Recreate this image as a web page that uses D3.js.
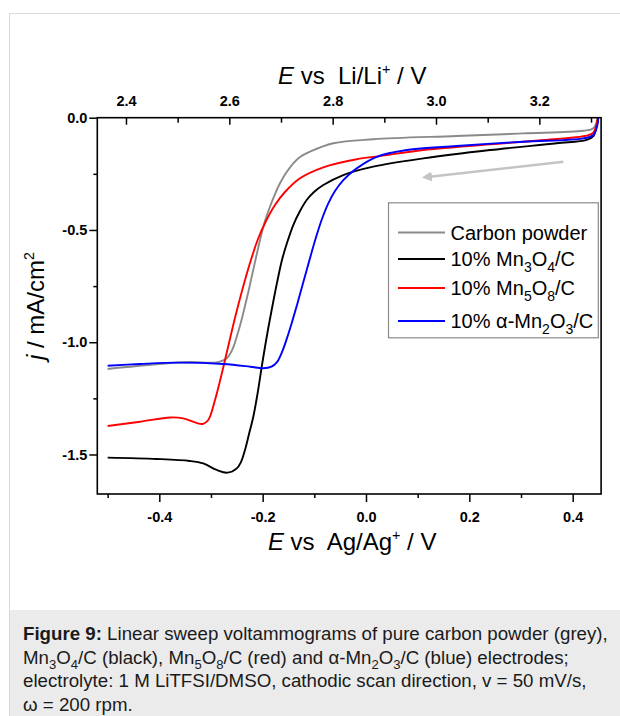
<!DOCTYPE html>
<html><head><meta charset="utf-8">
<script src="https://cdn.jsdelivr.net/npm/d3@7"></script>
<style>
html,body{margin:0;padding:0;background:#fff;}
svg{display:block;font-family:"Liberation Sans",Arial,Helvetica,sans-serif;}
text{white-space:pre;}
</style></head><body>
<svg id="c" width="620" height="716"></svg>
<script>
// ---- data (E vs Ag/Ag+ in V, j in mA/cm2) ----
const carbonPowder = [[-0.500,-1.119],[-0.405,-1.098],[-0.341,-1.088],[-0.289,-1.090],[-0.2696,-1.0717],[-0.2574,-1.0258],[-0.2497,-0.9724],[-0.2419,-0.9100],[-0.2342,-0.8388],[-0.2264,-0.7630],[-0.2187,-0.6829],[-0.2109,-0.6027],[-0.2032,-0.5270],[-0.1955,-0.4601],[-0.1858,-0.3964],[-0.1761,-0.3399],[-0.1665,-0.2922],[-0.1548,-0.2463],[-0.1407,-0.2031],[-0.1277,-0.1751],[-0.1084,-0.1514],[-0.0633,-0.1140],[0.014,-0.096],[0.175,-0.0815],[0.304,-0.070],[0.421,-0.058],[0.440,-0.047],[0.448,-0.010],[0.4495,0.01]];
const mn3o4 = [[-0.500,-1.514],[-0.405,-1.520],[-0.341,-1.529],[-0.315,-1.540],[-0.289,-1.569],[-0.268,-1.581],[-0.250,-1.562],[-0.2419,-1.5336],[-0.2342,-1.4802],[-0.2264,-1.4089],[-0.2181,-1.3318],[-0.2100,-1.2307],[-0.2019,-1.1105],[-0.1955,-1.0214],[-0.1891,-0.9368],[-0.1781,-0.8032],[-0.1703,-0.7140],[-0.1626,-0.6339],[-0.1529,-0.5581],[-0.1407,-0.4780],[-0.1277,-0.4156],[-0.1148,-0.3666],[-0.1006,-0.3310],[-0.0826,-0.2998],[-0.0439,-0.2553],[0.014,-0.218],[0.111,-0.181],[0.240,-0.144],[0.369,-0.114],[0.427,-0.099],[0.440,-0.082],[0.446,-0.040],[0.4495,0.01]];
const mn5o8 = [[-0.500,-1.373],[-0.437,-1.354],[-0.379,-1.335],[-0.354,-1.339],[-0.331,-1.357],[-0.316,-1.364],[-0.3052,-1.3465],[-0.2922,-1.2575],[-0.2793,-1.1416],[-0.2665,-1.0169],[-0.2536,-0.8922],[-0.2400,-0.7719],[-0.2245,-0.6472],[-0.2090,-0.5403],[-0.1935,-0.4601],[-0.1761,-0.3889],[-0.1568,-0.3310],[-0.1277,-0.2699],[-0.0826,-0.2209],[-0.018,-0.185],[0.027,-0.171],[0.111,-0.144],[0.240,-0.119],[0.369,-0.095],[0.427,-0.080],[0.440,-0.067],[0.446,-0.030],[0.4495,0.01]];
const mn2o3 = [[-0.500,-1.105],[-0.437,-1.097],[-0.366,-1.091],[-0.276,-1.097],[-0.224,-1.109],[-0.199,-1.116],[-0.183,-1.109],[-0.1723,-1.0887],[-0.1626,-1.0441],[-0.1529,-0.9818],[-0.1432,-0.9105],[-0.1335,-0.8343],[-0.1239,-0.7541],[-0.1142,-0.6740],[-0.1045,-0.5938],[-0.0948,-0.5181],[-0.0852,-0.4512],[-0.0736,-0.3849],[-0.0600,-0.3269],[-0.0439,-0.2779],[-0.0180,-0.2258],[0.0207,-0.1742],[0.079,-0.144],[0.175,-0.126],[0.304,-0.107],[0.421,-0.092],[0.440,-0.077],[0.448,-0.032],[0.4497,0.01]];

const seriesNames = ["Carbon powder","10% Mn3O4/C","10% Mn5O8/C","10% α-Mn2O3/C"];
const seriesColors = ["#8a8a8a","#000000","#ff0000","#0000ff"];
const seriesData = [carbonPowder, mn3o4, mn5o8, mn2o3];

const xMajorTicks = [-0.4,-0.2,0.0,0.2,0.4];
const xMinorTicks = [-0.5,-0.3,-0.1,0.1,0.3];
const yMajorTicks = [0.0,-0.5,-1.0,-1.5];
const yMinorTicks = [-0.25,-0.75,-1.25];
const topMajorTicks = [2.4,2.6,2.8,3.0,3.2];
const topMinorTicks = [2.5,2.7,2.9,3.1,3.3];
const liOffset = 2.8645; // E(Li/Li+) = E(Ag/Ag+) + offset
const arrowFrom = [0.382,-0.196], arrowTo = [0.112,-0.270];

// ---- layout ----
const svg = d3.select("#c");
const L = 97.3, R = 601.1, T = 117.7, B = 494;
const x = d3.scaleLinear().domain([-0.52, 0.455]).range([L, R]);
const y = d3.scaleLinear().domain([-1.676, 0]).range([B, T]);
const xTop = d3.scaleLinear().domain([-0.52 + liOffset, 0.455 + liOffset]).range([L, R]);
const fmt = d => d3.format(".1f")(d).replace("\u2212","-");

// figure frame & caption background
svg.append("rect").attr("x",9.5).attr("y",13.5).attr("width",640).attr("height",720)
  .attr("fill","none").attr("stroke","#dadada").attr("stroke-width",1);
svg.append("rect").attr("x",10).attr("y",610).attr("width",620).attr("height",110).attr("fill","#ebebeb");

// clip
svg.append("clipPath").attr("id","clip").append("rect")
  .attr("x",L).attr("y",T).attr("width",R-L).attr("height",B-T);

// axes
function styleAxis(g){
  g.select(".domain").remove();
  g.selectAll(".tick line").attr("stroke","#000").attr("stroke-width",1.5);
  g.selectAll(".tick text").attr("fill","#000").attr("font-size","14.5px").attr("font-weight","bold")
   .attr("font-family","Liberation Sans, Arial, sans-serif");
}
svg.append("g").attr("transform",`translate(0,${B})`)
  .call(d3.axisBottom(x).tickValues(xMinorTicks).tickSizeInner(4).tickSizeOuter(0).tickFormat(""))
  .call(styleAxis);
svg.append("g").attr("transform",`translate(0,${B})`)
  .call(d3.axisBottom(x).tickValues(xMajorTicks).tickSizeInner(8).tickSizeOuter(0).tickPadding(9.5).tickFormat(fmt))
  .call(styleAxis);
svg.append("g").attr("transform",`translate(${L},0)`)
  .call(d3.axisLeft(y).tickValues(yMinorTicks).tickSizeInner(4).tickSizeOuter(0).tickFormat(""))
  .call(styleAxis);
svg.append("g").attr("transform",`translate(${L},0)`)
  .call(d3.axisLeft(y).tickValues(yMajorTicks).tickSizeInner(8).tickSizeOuter(0).tickPadding(2).tickFormat(fmt))
  .call(styleAxis);
svg.append("g").attr("transform",`translate(0,${T})`)
  .call(d3.axisTop(xTop).tickValues(topMinorTicks).tickSizeInner(-5).tickSizeOuter(0).tickFormat(""))
  .call(styleAxis);
svg.append("g").attr("transform",`translate(0,${T})`)
  .call(d3.axisTop(xTop).tickValues(topMajorTicks).tickSizeInner(-7).tickSizeOuter(0).tickPadding(11.5).tickFormat(fmt))
  .call(styleAxis);

// curves
const line = d3.line().x(d => x(d[0])).y(d => y(d[1])).curve(d3.curveCatmullRom.alpha(0.5));
const gCurves = svg.append("g").attr("clip-path","url(#clip)");
seriesData.forEach((s,i) => {
  gCurves.append("path").datum(s).attr("d",line).attr("fill","none")
    .attr("stroke",seriesColors[i]).attr("stroke-width",1.9).attr("stroke-linejoin","round");
});

// arrow
svg.append("defs").append("marker").attr("id","ah").attr("viewBox","0 0 10 10")
  .attr("refX",2).attr("refY",5).attr("markerWidth",4.2).attr("markerHeight",4.2).attr("orient","auto-start-reverse")
  .append("path").attr("d","M0,0 L10,5 L0,10 Z").attr("fill","#c4c4c4");
svg.append("line").attr("x1",x(arrowFrom[0])).attr("y1",y(arrowFrom[1]))
  .attr("x2",x(arrowTo[0])+6).attr("y2",y(arrowTo[1])-1.6)
  .attr("stroke","#c4c4c4").attr("stroke-width",2.4).attr("marker-end","url(#ah)");

// frame
svg.append("rect").attr("x",L).attr("y",T).attr("width",R-L).attr("height",B-T)
  .attr("fill","none").attr("stroke","#000").attr("stroke-width",1.6);

// rich text helper: parts = [text, kind] ; kind in i,b,sub,sup
function rich(t, parts, base){
  let cur = 0;
  parts.forEach(p => {
    const [s, k] = p;
    let target = 0, size = null;
    if (k === "sub") { target = base*0.28; size = base*0.7; }
    if (k === "sup") { target = -base*0.42; size = base*0.6; }
    const ts = t.append("tspan").text(s);
    if (target - cur !== 0) ts.attr("dy", target - cur);
    cur = target;
    if (size) ts.attr("font-size", size + "px");
    if (k === "i") ts.attr("font-style","italic");
    if (k === "b") ts.attr("font-weight","bold");
  });
}

// axis titles
const tf = 24;
rich(svg.append("text").attr("x",(L+R)/2 + 3).attr("y",84).attr("text-anchor","middle").attr("font-size",tf+"px"),
  [["E","i"],[" vs  Li/Li"],["+","sup"],[" / V"]], tf);
rich(svg.append("text").attr("x",(L+R)/2 + 3).attr("y",550).attr("text-anchor","middle").attr("font-size",tf+"px"),
  [["E","i"],[" vs  Ag/Ag"],["+","sup"],[" / V"]], tf);
rich(svg.append("text").attr("transform","translate(44,306) rotate(-90)").attr("text-anchor","middle").attr("font-size",tf+"px"),
  [["j","i"],[" / mA/cm"],["2","sup"]], tf);

// legend
svg.append("rect").attr("x",388.5).attr("y",202.8).attr("width",209.8).attr("height",135)
  .attr("fill","#fff").attr("stroke","#8a8a8a").attr("stroke-width",1.2);
const legendParts = [
  [["Carbon powder"]],
  [["10% Mn"],["3","sub"],["O"],["4","sub"],["/C"]],
  [["10% Mn"],["5","sub"],["O"],["8","sub"],["/C"]],
  [["10% \u03b1-Mn"],["2","sub"],["O"],["3","sub"],["/C"]]
];
const legendBase = [239.5, 266, 295, 328];
seriesNames.forEach((n,i) => {
  svg.append("line").attr("x1",398).attr("x2",445).attr("y1",legendBase[i]-7).attr("y2",legendBase[i]-7)
    .attr("stroke",seriesColors[i]).attr("stroke-width",1.9);
  rich(svg.append("text").attr("x",450.5).attr("y",legendBase[i]).attr("font-size","20px").attr("fill","#000"),
    legendParts[i], 20);
});

// caption
const cf = 18.7;
const capLines = [
  [["Figure 9:","b"],[" Linear sweep voltammograms of pure carbon powder (grey),"]],
  [["Mn"],["3","sub"],["O"],["4","sub"],["/C (black), Mn"],["5","sub"],["O"],["8","sub"],["/C (red) and \u03b1-Mn"],["2","sub"],["O"],["3","sub"],["/C (blue) electrodes;"]],
  [["electrolyte: 1 M LiTFSI/DMSO, cathodic scan direction, v = 50 mV/s,"]],
  [["\u03c9 = 200 rpm."]]
];
const capY = [639.7, 663.5, 687.4, 711];
capLines.forEach((parts,i) => {
  rich(svg.append("text").attr("x",23).attr("y",capY[i]).attr("font-size",cf+"px").attr("fill","#1a1a1a"), parts, cf);
});
</script>
</body></html>
